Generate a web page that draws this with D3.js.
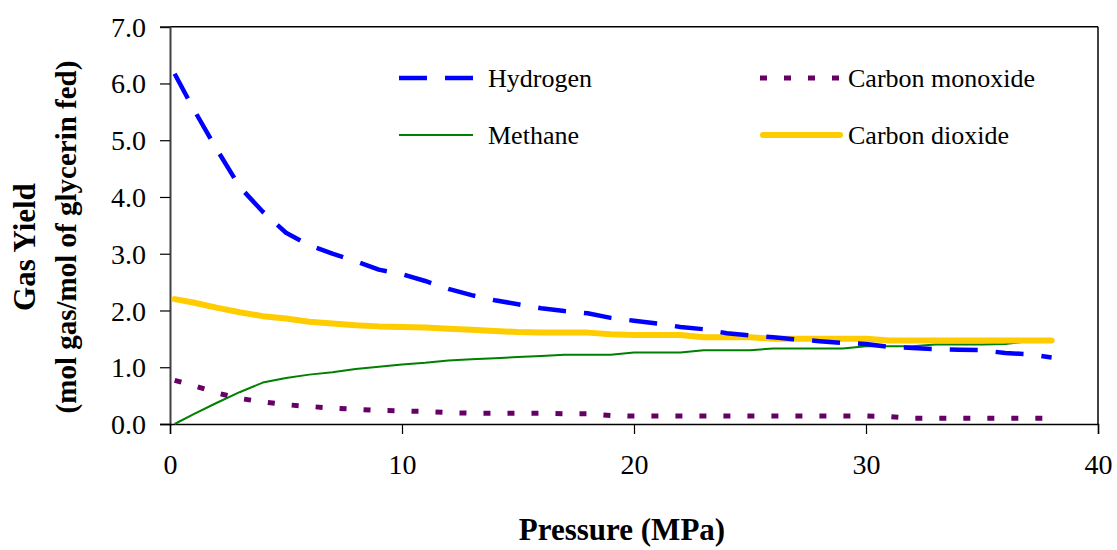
<!DOCTYPE html>
<html>
<head>
<meta charset="utf-8">
<script src="https://cdn.jsdelivr.net/npm/d3@7"></script>
<style>
  html, body { margin: 0; padding: 0; background: #fff; }
  svg { display: block; }
  text { font-family: "Liberation Serif", "Times New Roman", serif; fill: #000; }
</style>
</head>
<body>
<svg id="chart" width="1117" height="550"></svg>
<script>
// ---- data ----
const pressure = [0.2, 1, 2, 3, 4, 5, 6, 7, 8, 9, 10, 11, 12, 13, 14, 15, 16, 17, 18, 19,
  20, 21, 22, 23, 24, 25, 26, 27, 28, 29, 30, 31, 32, 33, 34, 35, 36, 37, 38];
const hydrogen = [6.17, 5.56, 4.85, 4.18, 3.74, 3.37, 3.15, 3.00, 2.87, 2.72, 2.64, 2.52, 2.38,
  2.27, 2.18, 2.11, 2.04, 1.99, 1.95, 1.87, 1.82, 1.77, 1.71, 1.67, 1.60, 1.56, 1.53, 1.49,
  1.46, 1.43, 1.41, 1.36, 1.34, 1.32, 1.31, 1.30, 1.25, 1.23, 1.17];
const carbonMonoxide = [0.77, 0.68, 0.55, 0.45, 0.39, 0.34, 0.31, 0.28, 0.26, 0.24, 0.23, 0.22, 0.20,
  0.19, 0.19, 0.19, 0.19, 0.18, 0.18, 0.15, 0.14, 0.14, 0.14, 0.14, 0.14, 0.14, 0.14, 0.14,
  0.14, 0.14, 0.14, 0.13, 0.10, 0.10, 0.10, 0.10, 0.10, 0.10, 0.10];
const methane = [0.00, 0.17, 0.37, 0.56, 0.73, 0.81, 0.87, 0.91, 0.97, 1.01, 1.05, 1.08, 1.12,
  1.14, 1.16, 1.18, 1.20, 1.22, 1.22, 1.22, 1.26, 1.26, 1.26, 1.30, 1.30, 1.30, 1.33, 1.33,
  1.33, 1.33, 1.37, 1.37, 1.37, 1.40, 1.40, 1.40, 1.41, 1.46, 1.47];
const carbonDioxide = [2.20, 2.14, 2.05, 1.97, 1.90, 1.86, 1.80, 1.77, 1.74, 1.72, 1.71, 1.70, 1.68,
  1.66, 1.64, 1.62, 1.61, 1.61, 1.61, 1.58, 1.57, 1.57, 1.57, 1.53, 1.53, 1.53, 1.50, 1.50,
  1.50, 1.50, 1.50, 1.47, 1.47, 1.47, 1.47, 1.47, 1.47, 1.47, 1.47];
const xTicks = [0, 10, 20, 30, 40];
const yTicks = [0, 1, 2, 3, 4, 5, 6, 7];
const seriesNames = ["Hydrogen", "Carbon monoxide", "Methane", "Carbon dioxide"];

// ---- layout ----
const svg = d3.select("#chart");
const plotL = 170, plotR = 1098, plotT = 26.7, plotB = 424;
const x = d3.scaleLinear().domain([0, 40]).range([plotL, plotR]);
const y = d3.scaleLinear().domain([0, 7]).range([plotB, plotT]);

const styles = {
  "Hydrogen": { color: "#0000FF", width: 4.5, dash: "28,18", cap: "butt", data: hydrogen },
  "Carbon monoxide": { color: "#660066", width: 5, dash: "7,17", cap: "butt", data: carbonMonoxide },
  "Methane": { color: "#008000", width: 2, dash: null, cap: "butt", data: methane },
  "Carbon dioxide": { color: "#FFCC00", width: 6, dash: null, cap: "round", data: carbonDioxide }
};

// frame (top and right)
svg.append("line").attr("x1", plotL).attr("x2", plotR).attr("y1", plotT).attr("y2", plotT)
  .attr("stroke", "#000").attr("stroke-width", 1.5);
svg.append("line").attr("x1", plotR).attr("x2", plotR).attr("y1", plotT).attr("y2", plotB)
  .attr("stroke", "#000").attr("stroke-width", 1.5);

// axes
const yAxis = d3.axisLeft(y).tickValues(yTicks).tickSize(10).tickPadding(14)
  .tickFormat(d3.format(".1f"));
const gy = svg.append("g").attr("transform", `translate(${plotL},0)`).call(yAxis);
gy.select(".domain").attr("stroke", "#404040").attr("stroke-width", 2);
gy.selectAll(".tick line").attr("stroke", "#000").attr("stroke-width", 1.2);
gy.selectAll(".tick text").attr("font-size", 28)
  .attr("font-family", "Liberation Serif, serif").attr("fill", "#000").attr("dy", "0.34em");

const xAxis = d3.axisBottom(x).tickValues(xTicks).tickSize(10).tickPadding(20)
  .tickFormat(d3.format("d"));
const gx = svg.append("g").attr("transform", `translate(0,${plotB})`).call(xAxis);
gx.select(".domain").attr("stroke", "#000").attr("stroke-width", 1.5);
gx.selectAll(".tick line").attr("stroke", "#000").attr("stroke-width", 1.2);
gx.selectAll(".tick text").attr("font-size", 28)
  .attr("font-family", "Liberation Serif, serif").attr("fill", "#000");

// series lines
const line = d3.line().x((d, i) => x(pressure[i])).y(d => y(d));
["Methane", "Carbon dioxide", "Carbon monoxide", "Hydrogen"].forEach(name => {
  const s = styles[name];
  svg.append("path").datum(s.data)
    .attr("d", line)
    .attr("fill", "none")
    .attr("stroke", s.color)
    .attr("stroke-width", s.width)
    .attr("stroke-linecap", s.cap)
    .attr("stroke-linejoin", "round")
    .attr("stroke-dasharray", s.dash);
});

// legend
const legendPos = {
  "Hydrogen": { x1: 399, x2: 473, y: 78, tx: 488 },
  "Methane": { x1: 399, x2: 473, y: 135, tx: 488 },
  "Carbon monoxide": { x1: 760, x2: 843, y: 78, tx: 848 },
  "Carbon dioxide": { x1: 763, x2: 840, y: 135, tx: 848 }
};
seriesNames.forEach(name => {
  const s = styles[name], p = legendPos[name];
  svg.append("line").attr("x1", p.x1).attr("x2", p.x2).attr("y1", p.y).attr("y2", p.y)
    .attr("stroke", s.color).attr("stroke-width", s.width)
    .attr("stroke-linecap", s.cap).attr("stroke-dasharray", s.dash);
  svg.append("text").attr("x", p.tx).attr("y", p.y).attr("dy", "0.35em")
    .attr("font-size", 26).text(name);
});

// axis titles
svg.append("text").attr("x", 622).attr("y", 540).attr("text-anchor", "middle")
  .attr("font-size", 31).attr("font-weight", "bold").text("Pressure (MPa)");
svg.append("text").attr("transform", "translate(35,247) rotate(-90)")
  .attr("text-anchor", "middle").attr("font-size", 31).attr("font-weight", "bold").text("Gas Yield");
svg.append("text").attr("transform", "translate(76,237) rotate(-90)")
  .attr("text-anchor", "middle").attr("font-size", 29).attr("font-weight", "bold")
  .text("(mol gas/mol of glycerin fed)");
</script>
</body>
</html>
